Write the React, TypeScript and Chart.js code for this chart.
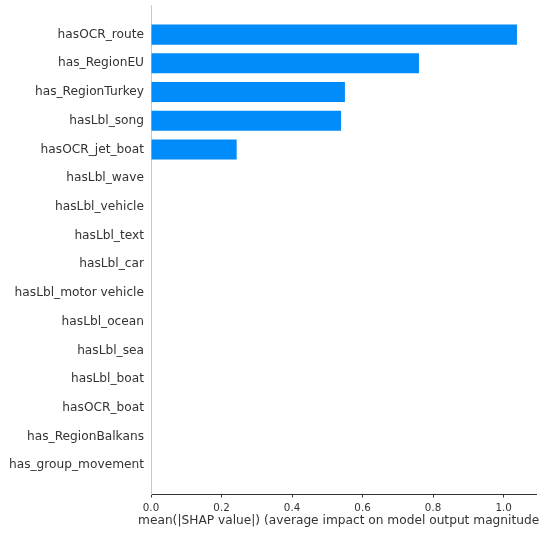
import React, { useEffect, useRef } from "react";
import { Chart, registerables } from "chart.js";

Chart.register(...registerables);

const features = [
  "hasOCR_route",
  "has_RegionEU",
  "has_RegionTurkey",
  "hasLbl_song",
  "hasOCR_jet_boat",
  "hasLbl_wave",
  "hasLbl_vehicle",
  "hasLbl_text",
  "hasLbl_car",
  "hasLbl_motor vehicle",
  "hasLbl_ocean",
  "hasLbl_sea",
  "hasLbl_boat",
  "hasOCR_boat",
  "has_RegionBalkans",
  "has_group_movement",
];

const meanAbsShap = [1.038, 0.76, 0.55, 0.539, 0.243, 0, 0, 0, 0, 0, 0, 0, 0, 0, 0, 0];

const xTicks = [0, 0.2, 0.4, 0.6, 0.8, 1.0];

const xLabel = "mean(|SHAP value|) (average impact on model output magnitude)";

const FONT = "'DejaVu Sans', sans-serif";

export default function App() {
  const ref = useRef<HTMLCanvasElement | null>(null);

  useEffect(() => {
    if (!ref.current) return;
    const axisTitlePlugin = {
      id: "axisTitle",
      afterDraw(chart: any) {
        const { ctx, chartArea } = chart;
        ctx.save();
        ctx.beginPath();
        ctx.rect(0, chartArea.bottom, 539, chart.height - chartArea.bottom);
        ctx.clip();
        ctx.font = `12.2px ${FONT}`;
        ctx.fillStyle = "#333333";
        ctx.textAlign = "center";
        ctx.textBaseline = "middle";
        ctx.fillText(xLabel, (chartArea.left + chartArea.right) / 2 - 2.5, 520.5);
        ctx.restore();
      },
    };
    const chart = new Chart(ref.current, {
      type: "bar",
      data: {
        datasets: [
          {
            data: meanAbsShap.map((v, i) => ({ x: v, y: i })),
            backgroundColor: "#008bfb",
            borderWidth: 0,
            barPercentage: 0.7,
            categoryPercentage: 1,
          },
        ],
      },
      options: {
        indexAxis: "y",
        responsive: false,
        animation: false,
        layout: { padding: { top: 5, right: 14, left: 0, bottom: 0 } },
        plugins: {
          legend: { display: false },
          tooltip: { enabled: false },
        },
        scales: {
          x: {
            type: "linear",
            min: 0,
            max: 1.092,
            offset: false,
            afterBuildTicks: (scale: any) => {
              scale.ticks = xTicks.map((v) => ({ value: v }));
            },
            afterFit: (scale: any) => {
              scale.height = 39;
              scale.paddingLeft = 0;
              scale.paddingRight = 0;
            },
            grid: {
              display: true,
              drawOnChartArea: false,
              drawTicks: true,
              tickLength: 3.5,
              color: "#333333",
            },
            border: { display: true, color: "#333333", width: 1 },
            ticks: {
              color: "#333333",
              font: { family: FONT, size: 10.3 },
              padding: 5,
              maxRotation: 0,
              callback: (v: any) => Number(v).toFixed(1),
            },
          },
          y: {
            type: "linear",
            reverse: true,
            offset: false,
            min: -1.03,
            max: 16.0,
            afterBuildTicks: (scale: any) => {
              scale.ticks = features.map((_, i) => ({ value: i }));
            },
            afterFit: (scale: any) => {
              scale.width = 151;
              scale.paddingTop = 0;
              scale.paddingBottom = 0;
            },
            grid: { display: false, drawTicks: false },
            border: { display: true, color: "#c8c8c8", width: 1 },
            ticks: {
              color: "#333333",
              font: { family: FONT, size: 12.2 },
              padding: 7,
              autoSkip: false,
              callback: (v: any) => features[Math.round(Number(v))] ?? "",
            },
          },
        },
      },
      plugins: [axisTitlePlugin],
    } as any);
    return () => chart.destroy();
  }, []);

  return (
    <div style={{ position: "absolute", left: 0, top: 0, width: 550, height: 533, background: "#fff" }}>
      <canvas ref={ref} width={550} height={533} />
    </div>
  );
}
